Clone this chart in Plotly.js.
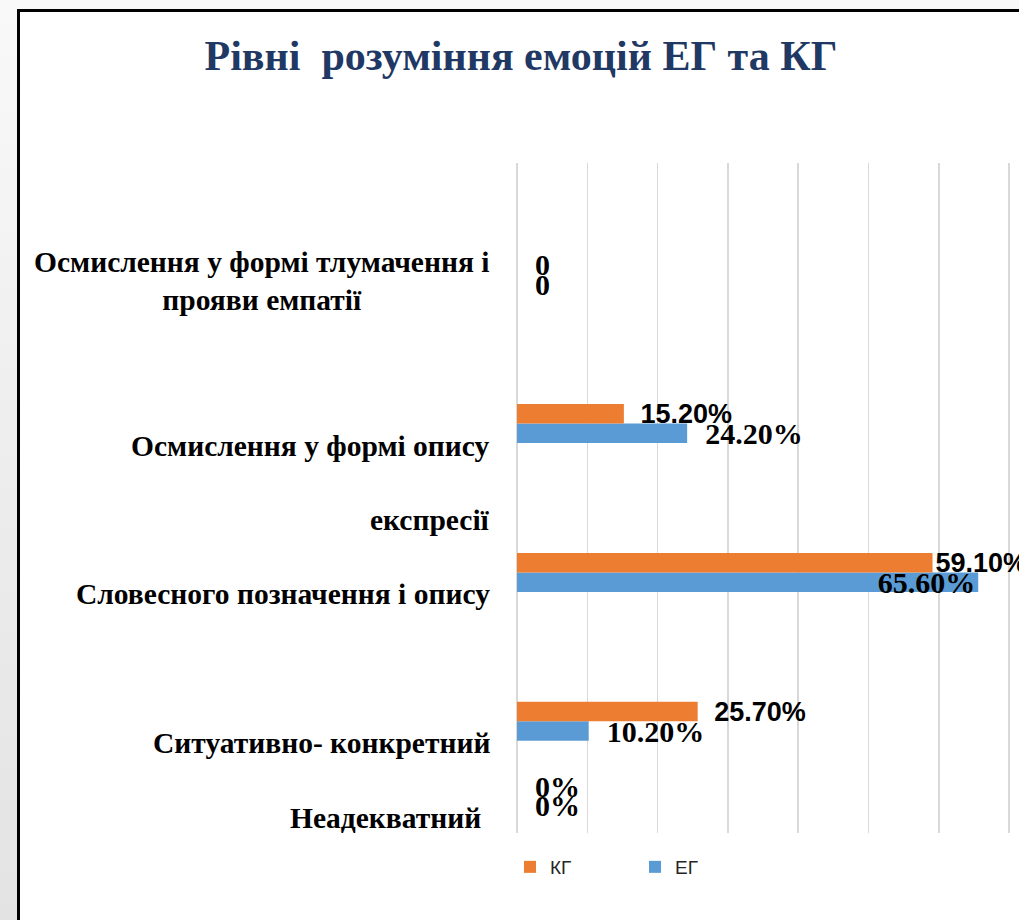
<!DOCTYPE html>
<html>
<head>
<meta charset="utf-8">
<script src="https://cdn.plot.ly/plotly-3.0.1.min.js"></script>
<style>
  html, body { margin: 0; padding: 0; }
  #wrap { position: relative; width: 1019px; height: 920px; overflow: hidden;
          background: linear-gradient(to bottom, #f9f9f9 0%, #ededed 50%, #e3e3e3 100%); }
  #frame { position: absolute; left: 17px; top: 9px; width: 1100px; height: 1000px;
           border: 3px solid #000; background: #fff; }
  #chart { position: absolute; left: 0; top: 0; width: 1019px; height: 920px; }
</style>
</head>
<body>
<div id="wrap"><div id="frame"></div><div id="chart"></div></div>
<script>
// Rows from bottom to top (blank rows are empty slots in the original chart)
const categories = ['Неадекватний', 'Ситуативно- конкретний', '', 'Словесного позначення і опису', '',
                    'Осмислення у формі опису експресії', '', 'Осмислення у формі тлумачення і прояви емпатії', ''];
const axisLabels = ['Неадекватний', 'Ситуативно- конкретний', '', 'Словесного позначення і опису', 'експресії',
                    'Осмислення у формі опису', '', 'Осмислення у формі тлумачення і<br>прояви емпатії', ''];
const kgValues = [0, 25.7, null, 59.1, null, 15.2, null, 0, null];
const egValues = [0, 10.2, null, 65.6, null, 24.2, null, 0, null];
const kgLabels = ['0%', '25.70%', '', '59.10%', '', '15.20%', '', '0', ''];
const egLabels = ['0%', '10.20%', '', '65.60%', '', '24.20%', '', '0', ''];
const seriesNames = ['ЕГ', 'КГ'];
const seriesColors = ['#5B9BD5', '#ED7D31'];
const xTicks = [0, 10, 20, 30, 40, 50, 60, 70];

const rows = categories.map((_, i) => i);
const SERIF = 'Liberation Serif';
const SANS = 'Liberation Sans';
const sp = '\u2002';

const egFont = { family: SERIF, size: 30, color: '#000', weight: 'bold' };
const egTrace = {
  type: 'bar', orientation: 'h', name: seriesNames[0],
  y: rows, x: egValues, text: egLabels,
  marker: { color: seriesColors[0] },
  texttemplate: egValues.map(v => (v !== null && v > 60) ? '%{text}' : sp + '%{text}'),
  textposition: egValues.map(v => (v !== null && v > 60) ? 'inside' : 'outside'),
  insidetextanchor: 'end',
  constraintext: 'none',
  cliponaxis: false,
  textfont: egFont, insidetextfont: egFont, outsidetextfont: egFont,
  hoverinfo: 'skip'
};
const kgFamilies = kgLabels.map(t => t.indexOf('.') >= 0 ? SANS : SERIF);
const kgSizes = kgLabels.map(t => t.indexOf('.') >= 0 ? 27 : 30);
const kgFont = { family: kgFamilies, size: kgSizes, color: '#000', weight: 'bold' };
const kgTrace = {
  type: 'bar', orientation: 'h', name: seriesNames[1],
  y: rows, x: kgValues, text: kgLabels,
  marker: { color: seriesColors[1] },
  texttemplate: kgValues.map(v => (v !== null && v > 55) ? '%{text}' : sp + '%{text}'),
  textposition: 'outside',
  constraintext: 'none',
  cliponaxis: false,
  textfont: kgFont, outsidetextfont: kgFont,
  hoverinfo: 'skip'
};

const annotations = [];
axisLabels.forEach((lab, i) => {
  if (!lab) return;
  const multi = lab.indexOf('<br>') >= 0;
  annotations.push({
    xref: 'paper', yref: 'y', x: (492 - 517) / 502, y: i,
    xanchor: 'right', yanchor: 'middle', align: 'center',
    xshift: i === 0 ? -9 : 0,
    yshift: multi ? -6 : -22,
    text: '<b>' + lab + '</b>', showarrow: false,
    font: { family: SERIF, size: 29.5, color: '#000' }
  });
});

const layout = {
  width: 1019, height: 920,
  paper_bgcolor: 'rgba(0,0,0,0)', plot_bgcolor: 'rgba(0,0,0,0)',
  margin: { l: 517, r: 0, t: 163, b: 87 },
  title: {
    text: '<b>Рівні  розуміння емоцій ЕГ та КГ</b>',
    x: 521 / 1019, xanchor: 'center', xref: 'container',
    y: 1 - 55 / 920, yanchor: 'middle', yref: 'container',
    font: { family: SERIF, size: 42, color: '#1F3864' }
  },
  barmode: 'group', bargap: 0.476, bargroupgap: 0,
  xaxis: {
    range: [0, 71.4], tickvals: xTicks, showticklabels: false,
    showgrid: true, gridcolor: '#D9D9D9', gridwidth: 1.5,
    zeroline: true, zerolinecolor: '#D9D9D9', zerolinewidth: 1.5,
    showline: false, ticks: '', fixedrange: true
  },
  yaxis: {
    range: [-0.5, 8.5], showticklabels: false, showgrid: false,
    zeroline: false, showline: false, ticks: '', fixedrange: true
  },
  showlegend: true,
  legend: {
    orientation: 'h', traceorder: 'reversed',
    xref: 'container', yref: 'container',
    x: 510 / 1019, xanchor: 'left', y: 1 - 867 / 920, yanchor: 'middle',
    entrywidth: 80, entrywidthmode: 'pixels',
    font: { family: SANS, size: 19, color: '#262626' },
    bgcolor: 'rgba(0,0,0,0)'
  },
  annotations: annotations
};

Plotly.newPlot('chart', [egTrace, kgTrace], layout, { staticPlot: true, displayModeBar: false });
</script>
</body>
</html>
